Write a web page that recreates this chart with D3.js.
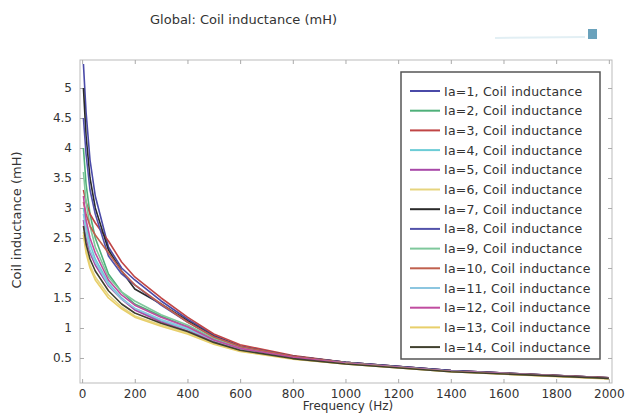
<!DOCTYPE html>
<html><head><meta charset="utf-8">
<script src="https://cdn.jsdelivr.net/npm/d3@7"></script>
<style>body{margin:0;background:#fff}svg{display:block}text{font-family:"DejaVu Sans",sans-serif}</style>
</head><body><svg id="c" width="627" height="414"></svg>
<script>
const freqs = [5, 15, 30, 50, 100, 150, 200, 300, 400, 500, 600, 800, 1000, 1400, 2000];
const ia1  = [5.4, 4.6, 3.8, 3.2, 2.35, 2.0, 1.8, 1.45, 1.15, 0.88, 0.7, 0.53, 0.43, 0.29, 0.17];
const ia2  = [4.0, 3.4, 2.9, 2.5, 1.9, 1.6, 1.4, 1.2, 1.02, 0.82, 0.67, 0.51, 0.42, 0.28, 0.16];
const ia3  = [3.3, 3.1, 2.9, 2.75, 2.45, 2.1, 1.85, 1.5, 1.18, 0.9, 0.72, 0.54, 0.43, 0.29, 0.17];
const ia4  = [3.0, 2.7, 2.4, 2.15, 1.75, 1.5, 1.32, 1.12, 0.98, 0.78, 0.64, 0.5, 0.41, 0.28, 0.16];
const ia5  = [2.8, 2.5, 2.25, 2.05, 1.7, 1.48, 1.3, 1.1, 0.95, 0.78, 0.64, 0.5, 0.41, 0.28, 0.16];
const ia6  = [2.6, 2.3, 2.05, 1.85, 1.55, 1.35, 1.2, 1.05, 0.92, 0.74, 0.62, 0.49, 0.40, 0.27, 0.16];
const ia7  = [5.0, 4.2, 3.5, 3.0, 2.3, 1.95, 1.65, 1.4, 1.12, 0.86, 0.69, 0.53, 0.43, 0.29, 0.17];
const ia8  = [4.5, 3.9, 3.3, 2.9, 2.2, 1.9, 1.72, 1.38, 1.1, 0.85, 0.69, 0.53, 0.43, 0.29, 0.17];
const ia9  = [3.6, 3.1, 2.7, 2.35, 1.85, 1.6, 1.45, 1.22, 1.05, 0.83, 0.67, 0.51, 0.42, 0.28, 0.16];
const ia10 = [3.1, 2.9, 2.7, 2.55, 2.25, 1.95, 1.72, 1.4, 1.1, 0.85, 0.69, 0.53, 0.42, 0.28, 0.17];
const ia11 = [2.9, 2.6, 2.3, 2.1, 1.72, 1.48, 1.33, 1.14, 1.0, 0.79, 0.65, 0.5, 0.41, 0.28, 0.16];
const ia12 = [3.2, 2.8, 2.5, 2.25, 1.8, 1.55, 1.38, 1.18, 1.02, 0.8, 0.66, 0.51, 0.41, 0.28, 0.16];
const ia13 = [2.55, 2.25, 2.0, 1.8, 1.5, 1.32, 1.18, 1.03, 0.9, 0.73, 0.61, 0.48, 0.40, 0.27, 0.15];
const ia14 = [2.7, 2.4, 2.15, 1.95, 1.62, 1.4, 1.25, 1.08, 0.94, 0.76, 0.63, 0.49, 0.40, 0.27, 0.16];
const seriesValues = [ia1, ia2, ia3, ia4, ia5, ia6, ia7, ia8, ia9, ia10, ia11, ia12, ia13, ia14];
const seriesNames = ["Ia=1, Coil inductance","Ia=2, Coil inductance","Ia=3, Coil inductance","Ia=4, Coil inductance","Ia=5, Coil inductance","Ia=6, Coil inductance","Ia=7, Coil inductance","Ia=8, Coil inductance","Ia=9, Coil inductance","Ia=10, Coil inductance","Ia=11, Coil inductance","Ia=12, Coil inductance","Ia=13, Coil inductance","Ia=14, Coil inductance"];
const colors = ["#4a4aa8","#4fb07a","#c04545","#6cccd6","#a848a8","#e6d47e","#2a2a2a","#5252aa","#7fc89c","#c0604e","#8cc6e0","#c04ca0","#e8cf6a","#40402e"];
const xTicks = [0,200,400,600,800,1000,1200,1400,1600,1800,2000];
const yTicks = [0.5,1,1.5,2,2.5,3,3.5,4,4.5,5];
const titleText = "Global: Coil inductance (mH)";
const xLabel = "Frequency (Hz)";
const yLabel = "Coil inductance (mH)";

const svg = d3.select("#c");
const L = 80, R = 612, T = 60, B = 383;
const x = d3.scaleLinear().domain([-8, 2012]).range([L, R]);
const y = d3.scaleLinear().domain([0.083, 5.467]).range([B, T]);
const FONT = "'DejaVu Sans',sans-serif";

svg.append("text").attr("x", 150).attr("y", 24).attr("font-size", 13).attr("fill", "#333").text(titleText);
// small logo
svg.append("line").attr("x1", 495).attr("x2", 585).attr("y1", 38).attr("y2", 37).attr("stroke", "#e2eff4").attr("stroke-width", 2);
svg.append("rect").attr("x", 588).attr("y", 29).attr("width", 9).attr("height", 10).attr("fill", "#6aa2bc");

svg.append("rect").attr("x", L).attr("y", T).attr("width", R - L).attr("height", B - T).attr("fill", "none").attr("stroke", "#bbb");

const gx = svg.append("g").attr("transform", `translate(0,${B})`).call(d3.axisBottom(x).tickValues(xTicks).tickSize(-4).tickPadding(6).tickFormat(d3.format("d")));
const gxt = svg.append("g").attr("transform", `translate(0,${T})`).call(d3.axisTop(x).tickValues(xTicks).tickSize(-4).tickFormat(""));
const gy = svg.append("g").attr("transform", `translate(${L},0)`).call(d3.axisLeft(y).tickValues(yTicks).tickSize(-4).tickPadding(8).tickFormat(d => String(d)));
const gyr = svg.append("g").attr("transform", `translate(${R},0)`).call(d3.axisRight(y).tickValues(yTicks).tickSize(-4).tickFormat(""));
[gx, gxt, gy, gyr].forEach(g => {
  g.select(".domain").remove();
  g.selectAll("line").attr("stroke", "#aaa");
  g.selectAll("text").attr("font-size", 12).attr("fill", "#333").attr("font-family", FONT);
});

svg.append("text").attr("x", 348).attr("y", 410).attr("text-anchor", "middle").attr("font-size", 12).attr("fill", "#333").text(xLabel);
svg.append("text").attr("transform", "translate(21,220) rotate(-90)").attr("text-anchor", "middle").attr("font-size", 13).attr("fill", "#333").text(yLabel);

const line = d3.line().x((d, i) => x(freqs[i])).y(d => y(d));
svg.append("clipPath").attr("id", "cp").append("rect").attr("x", L).attr("y", T).attr("width", R - L).attr("height", B - T);
const gl = svg.append("g").attr("clip-path", "url(#cp)");
seriesValues.forEach((vals, k) => {
  gl.append("path").attr("d", line(vals)).attr("fill", "none").attr("stroke", colors[k]).attr("stroke-width", 1.6).attr("stroke-linejoin", "round");
});

// legend
const lx = 401, ly = 72, lw = 199, lh = 287;
svg.append("rect").attr("x", lx).attr("y", ly).attr("width", lw).attr("height", lh).attr("fill", "#fff").attr("stroke", "#555").attr("stroke-width", 1.5);
seriesNames.forEach((n, k) => {
  const yy = 91 + k * 19.7;
  svg.append("line").attr("x1", lx + 9).attr("x2", lx + 39).attr("y1", yy).attr("y2", yy).attr("stroke", colors[k]).attr("stroke-width", 2);
  svg.append("text").attr("x", lx + 43).attr("y", yy + 4.5).attr("font-size", 12.5).attr("letter-spacing", 0.2).attr("fill", "#333").text(n);
});
</script></body></html>
